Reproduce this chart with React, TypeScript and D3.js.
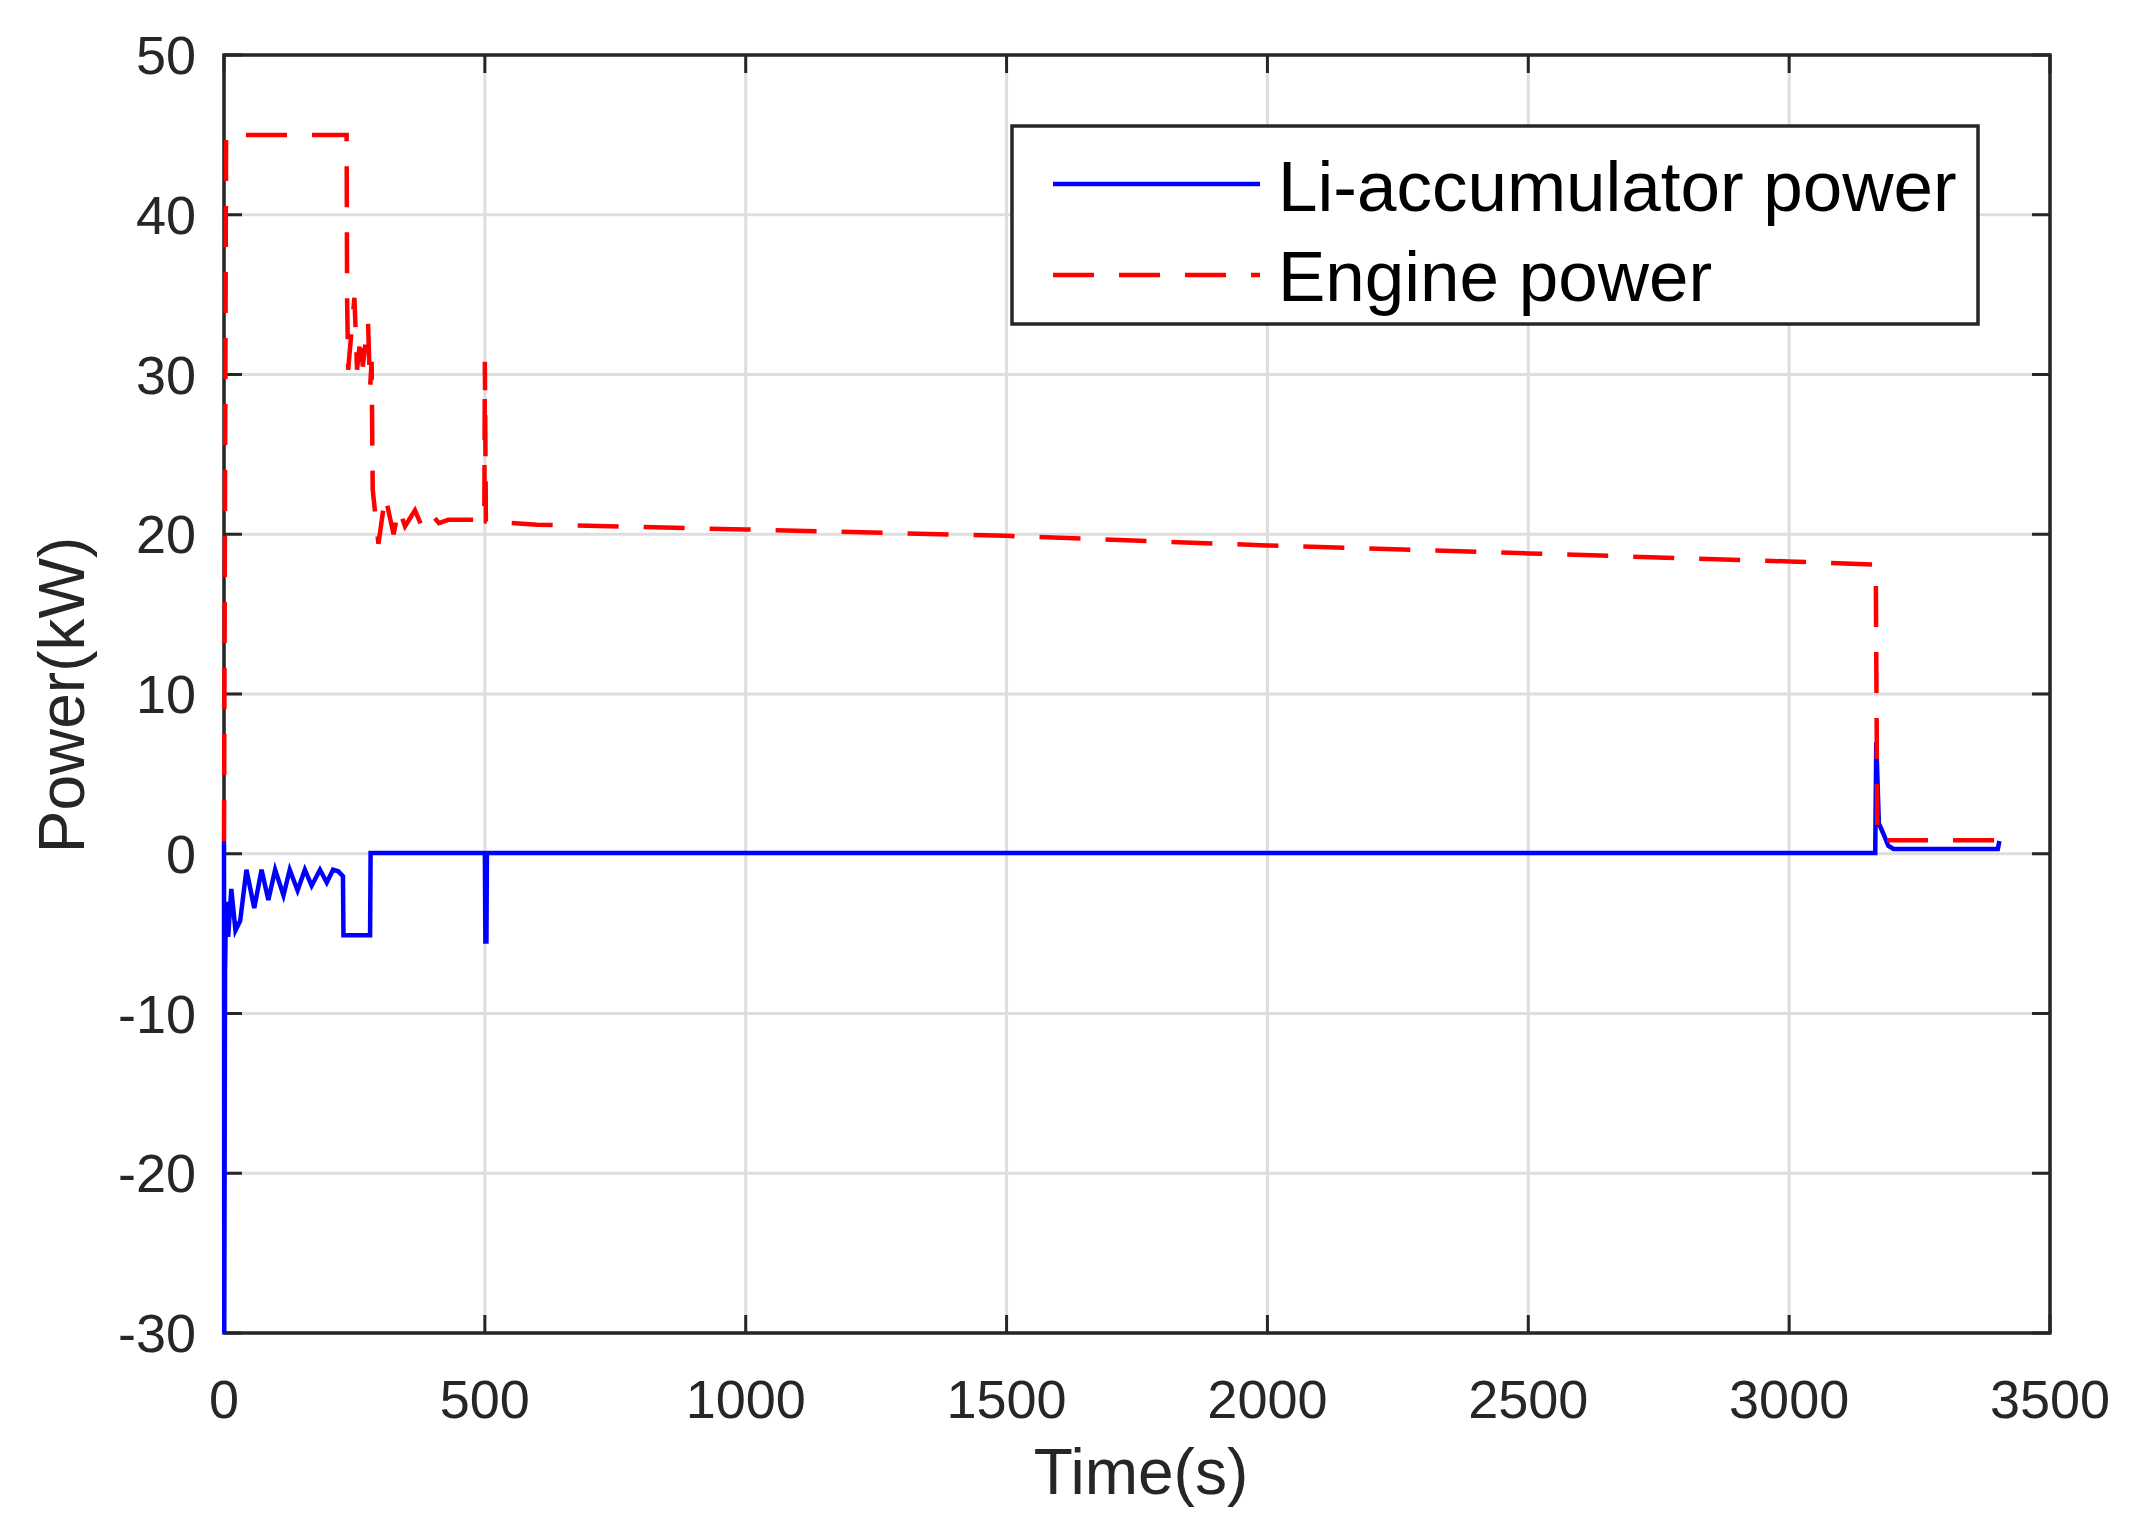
import React from "react";
import * as d3 from "d3";

const xTicks = [0, 500, 1000, 1500, 2000, 2500, 3000, 3500];
const yTicks = [-30, -20, -10, 0, 10, 20, 30, 40, 50];

const liTime = [0, 0.5, 2, 4, 8, 14, 22, 31, 43, 58, 72, 85, 98, 114, 126, 141, 155, 168, 184, 197, 209, 219, 228, 229, 280, 281, 500, 501, 503, 504, 3165, 3167, 3172, 3180, 3190, 3200, 3400, 3403];
const liPower = [0.8, -30, -7.4, -3.0, -5.2, -2.2, -4.8, -4.2, -1.0, -3.4, -1.0, -2.9, -1.0, -2.6, -1.0, -2.3, -1.0, -2.0, -1.0, -1.8, -1.0, -1.1, -1.4, -5.1, -5.1, 0.05, 0.05, -5.5, -5.5, 0.05, 0.05, 7.0, 1.9, 1.3, 0.5, 0.3, 0.3, 0.8];

const engTime = [0, 4, 235, 236, 238, 250, 255, 262, 266, 276, 280, 283, 285, 296, 309, 325, 335, 347, 366, 379, 396, 412, 430, 499, 500, 502, 600, 1000, 1500, 2000, 2500, 3000, 3166, 3169, 3400, 3403];
const engPower = [0.8, 45, 45, 34.6, 30.3, 34.8, 30.3, 32.5, 30.5, 33.3, 29.2, 30.8, 22.8, 19.4, 22.4, 20.0, 21.6, 20.5, 21.5, 20.5, 21.3, 20.7, 20.9, 20.9, 30.8, 20.8, 20.6, 20.3, 19.9, 19.3, 18.8, 18.3, 18.1, 0.85, 0.85, 1.0];

const seriesNames = ["Li-accumulator power", "Engine power"];

const W = 2144, H = 1526;
const L = 224, T = 55, R = 2050, B = 1333;
const AX = "#262626";
const FONT = "'Liberation Sans', Arial, Helvetica, sans-serif";

export default function App() {
  const x = d3.scaleLinear().domain([0, 3500]).range([L, R]);
  const y = d3.scaleLinear().domain([-30, 50]).range([B, T]);
  const line = d3.line<[number, number]>().x(d => x(d[0])).y(d => y(d[1]));
  const liPts = liTime.map((t, i) => [t, liPower[i]] as [number, number]);
  const engPts = engTime.map((t, i) => [t, engPower[i]] as [number, number]);
  const tick = 18;

  return (
    <svg width={W} height={H} style={{ position: "absolute", left: 0, top: 0, background: "#fff" }}>
      <defs>
        <clipPath id="plot">
          <rect x={L - 4} y={T - 4} width={R - L + 8} height={B - T + 8} />
        </clipPath>
      </defs>
      <rect x={0} y={0} width={W} height={H} fill="#fff" />
      {/* grid */}
      {xTicks.map(t => (
        <line key={"gx" + t} x1={x(t)} x2={x(t)} y1={T} y2={B} stroke="#dedede" strokeWidth={3} />
      ))}
      {yTicks.map(t => (
        <line key={"gy" + t} x1={L} x2={R} y1={y(t)} y2={y(t)} stroke="#dedede" strokeWidth={3} />
      ))}
      {/* ticks */}
      {xTicks.map(t => (
        <g key={"tx" + t}>
          <line x1={x(t)} x2={x(t)} y1={B} y2={B - tick} stroke={AX} strokeWidth={3} />
          <line x1={x(t)} x2={x(t)} y1={T} y2={T + tick} stroke={AX} strokeWidth={3} />
        </g>
      ))}
      {yTicks.map(t => (
        <g key={"ty" + t}>
          <line x1={L} x2={L + tick} y1={y(t)} y2={y(t)} stroke={AX} strokeWidth={3} />
          <line x1={R} x2={R - tick} y1={y(t)} y2={y(t)} stroke={AX} strokeWidth={3} />
        </g>
      ))}
      {/* box */}
      <rect x={L} y={T} width={R - L} height={B - T} fill="none" stroke={AX} strokeWidth={3.5} />
      {/* data */}
      <g clipPath="url(#plot)">
        <path d={line(liPts) || ""} fill="none" stroke="#0000ff" strokeWidth={4.5} strokeLinejoin="miter" />
        <path d={line(engPts) || ""} fill="none" stroke="#ff0000" strokeWidth={4.5} strokeDasharray="41,25" />
      </g>
      {/* tick labels */}
      {xTicks.map(t => (
        <text key={"lx" + t} x={x(t)} y={1418} textAnchor="middle" fontFamily={FONT} fontSize={54} fill={AX}>
          {t}
        </text>
      ))}
      {yTicks.map(t => (
        <text key={"ly" + t} x={196} y={y(t) + 19} textAnchor="end" fontFamily={FONT} fontSize={54} fill={AX}>
          {t}
        </text>
      ))}
      {/* axis labels */}
      <text x={1141} y={1494} textAnchor="middle" fontFamily={FONT} fontSize={64} fill={AX}>Time(s)</text>
      <text transform="translate(84,695) rotate(-90)" textAnchor="middle" fontFamily={FONT} fontSize={64} fill={AX}>Power(kW)</text>
      {/* legend */}
      <rect x={1012} y={126} width={966} height={198} fill="#fff" stroke={AX} strokeWidth={3.5} />
      <line x1={1053} x2={1260} y1={184} y2={184} stroke="#0000ff" strokeWidth={4.5} />
      <line x1={1053} x2={1260} y1={275} y2={275} stroke="#ff0000" strokeWidth={4.5} strokeDasharray="41,25" />
      <text x={1278} y={211} fontFamily={FONT} fontSize={71} fill="#000">{seriesNames[0]}</text>
      <text x={1278} y={301} fontFamily={FONT} fontSize={71} fill="#000">{seriesNames[1]}</text>
    </svg>
  );
}
